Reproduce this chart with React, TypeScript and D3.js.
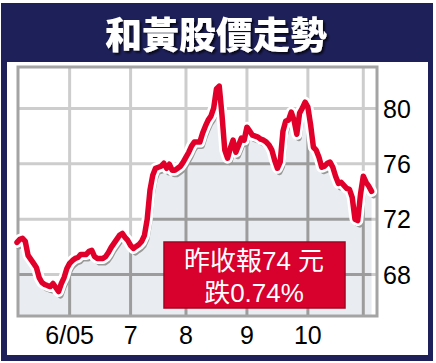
import React from "react";
import * as d3 from "d3";

const title = "和黃股價走勢";
const values = [
  70.32, 70.54, 70.61, 70.39, 69.38, 69.09, 68.8, 68.51, 67.78, 67.42,
  67.28, 67.2, 67.13, 67.35, 67.06, 66.77, 67.35, 67.78, 68.43, 68.8,
  69.01, 69.16, 69.23, 69.45, 69.45, 69.45, 69.67, 69.74, 69.3, 69.16,
  69.16, 69.16, 69.3, 69.59, 69.96, 70.25, 70.54, 70.83, 70.97, 70.68,
  70.46, 70.1, 69.88, 70.03, 70.17, 70.39, 70.83, 71.99, 74.09, 75.17,
  75.68, 75.75, 75.83, 76.04, 75.68, 75.97, 75.54, 75.54, 75.68, 75.83,
  76.12, 76.48, 76.84, 77.28, 77.57, 77.57, 77.57, 78.22, 78.72, 79.16,
  79.45, 80.03, 81.41, 81.62, 79.52, 76.99, 76.41, 77.13, 77.71, 76.84,
  77.35, 77.86, 77.71, 78.65, 78.36, 78.07, 78.0, 77.93, 77.78, 77.71,
  77.57, 77.35, 76.99, 76.26, 75.68, 76.12, 78.36, 79.09, 79.16, 79.74,
  79.16, 78.14, 79.67, 80.03, 80.46, 80.1, 78.8, 77.2, 76.99, 76.48,
  75.75, 75.83, 76.04, 76.12, 75.75, 75.1, 74.59, 74.67, 74.45, 74.23,
  74.16, 73.58, 72.0, 71.9, 73.8, 75.1, 74.67, 74.38, 74.01,
];
const monthIdx = [19, 41, 61, 83, 105, 125];
const monthLabels = ["6/05", "7", "8", "9", "10", ""];
const yTicks = [68, 72, 76, 80];
const boxLines = ["昨收報74 元", "跌0.74%"];

const W = 436;
const H = 363;
const plot = { l: 18, r: 377, t: 67, b: 316 };
const NAVY = "#1e205a";
const RED = "#e0002a";
const FONT = "'Liberation Sans', Arial, 'Noto Sans CJK TC', sans-serif";

export default function App() {
  const x = d3.scaleLinear().domain([0, values.length - 1]).range([17, 371.6]);
  const y = d3.scaleLinear().domain([65, 83]).range([plot.b, plot.t]);

  const line = d3
    .line<number>()
    .x((_, i) => x(i))
    .y((d) => y(d))
    .curve(d3.curveLinear);
  const area = d3
    .area<number>()
    .x((_, i) => x(i))
    .y0(plot.b)
    .y1((d) => y(d));

  const linePath = line(values) || "";
  const areaPath = area(values) || "";

  const grid = (stroke: string) => (
    <g stroke={stroke} strokeWidth={3}>
      {monthIdx.map((m, i) => (
        <line key={"v" + i} x1={x(m)} x2={x(m)} y1={plot.t} y2={plot.b} />
      ))}
      {yTicks.map((t, i) => (
        <line key={"h" + i} x1={plot.l} x2={plot.r} y1={y(t)} y2={y(t)} />
      ))}
    </g>
  );

  return (
    <svg
      width={W}
      height={H}
      style={{ position: "absolute", left: 0, top: 0 }}
      fontFamily={FONT}
    >
      <defs>
        <clipPath id="plotClip">
          <rect x={plot.l} y={plot.t} width={plot.r - plot.l} height={plot.b - plot.t} />
        </clipPath>
        <clipPath id="areaClip">
          <path d={areaPath} />
        </clipPath>
        <filter id="titleShadow" x="-10%" y="-20%" width="120%" height="150%">
          <feDropShadow dx={2} dy={2} stdDeviation={0.8} floodColor="#000" floodOpacity={0.75} />
        </filter>
      </defs>
      <rect x={0} y={0} width={W} height={H} fill="#ffffff" />
      <rect x={1} y={3} width={432} height={358} fill={NAVY} />
      <rect x={7} y={62} width={421} height={293} fill="#ffffff" />

      <text
        x={216}
        y={33}
        textAnchor="middle"
        dominantBaseline="central"
        fontSize={37}
        fontWeight={900}
        fontFamily="'Noto Sans CJK TC', sans-serif"
        fill="#ffffff"
        filter="url(#titleShadow)"
      >
        {title}
      </text>

      <g clipPath="url(#plotClip)">
        {grid("#cdcdcd")}
        <path d={areaPath} fill="#e9edf1" />
        <g clipPath="url(#areaClip)">{grid("#9c9c9c")}</g>
      </g>
      <rect
        x={plot.l}
        y={plot.t}
        width={plot.r - plot.l}
        height={plot.b - plot.t}
        fill="none"
        stroke="#a4a4a4"
        strokeWidth={3}
      />

      <path
        d={linePath}
        fill="none"
        stroke="#9a9a9a"
        strokeWidth={6}
        strokeLinejoin="round"
        strokeLinecap="round"
        transform="translate(2,4)"
      />
      <path
        d={linePath}
        fill="none"
        stroke="#ffffff"
        strokeWidth={11}
        strokeLinejoin="round"
        strokeLinecap="round"
      />
      <path
        d={linePath}
        fill="none"
        stroke={RED}
        strokeWidth={5.5}
        strokeLinejoin="round"
        strokeLinecap="round"
      />

      {yTicks.map((t) => (
        <text key={t} x={383} y={y(t)} dy="0.36em" fontSize={25} fill="#000">
          {t}
        </text>
      ))}
      {monthIdx.map((m, i) => (
        <text key={i} x={x(m)} y={335} dy="0.36em" textAnchor="middle" fontSize={25} fill="#000">
          {monthLabels[i]}
        </text>
      ))}

      <rect x={164} y={242} width={181} height={66} fill="#d8002c" stroke="#a80020" strokeWidth={1.5} />
      {boxLines.map((s, i) => (
        <text
          key={i}
          x={254}
          y={261 + i * 31.5}
          dominantBaseline="central"
          textAnchor="middle"
          fontSize={26}
          fill="#ffffff"
        >
          {s}
        </text>
      ))}
    </svg>
  );
}
